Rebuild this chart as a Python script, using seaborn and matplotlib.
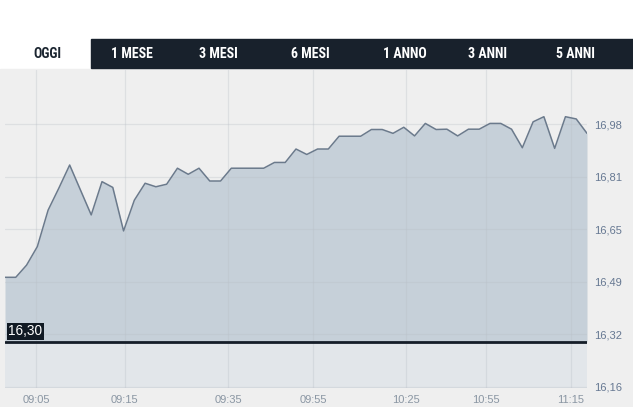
import pandas as pd
import seaborn as sns
import matplotlib.pyplot as plt
from matplotlib import font_manager
from matplotlib.patches import Rectangle

# intraday prices, one per sample
prices = [16.502, 16.502, 16.540, 16.598, 16.712, 16.781, 16.853, 16.775, 16.697, 16.801,
          16.783, 16.647, 16.743, 16.796, 16.785, 16.793, 16.843, 16.824, 16.843, 16.803,
          16.803, 16.843, 16.843, 16.843, 16.843, 16.861, 16.861, 16.903, 16.886, 16.903,
          16.903, 16.943, 16.943, 16.943, 16.964, 16.964, 16.952, 16.971, 16.944, 16.983,
          16.964, 16.965, 16.944, 16.965, 16.965, 16.983, 16.983, 16.965, 16.907, 16.988,
          17.004, 16.905, 17.004, 16.997, 16.952]
prev_close = 16.30
prev_close_label = '16,30'

x_labels = ['09:05', '09:15', '09:35', '09:55', '10:25', '10:55', '11:15']
x_label_pos = [2.9, 11.1, 20.7, 28.6, 37.2, 44.6, 52.5]
y_ticks = [16.16, 16.324, 16.488, 16.652, 16.816, 16.98]
y_labels = ['16,16', '16,32', '16,49', '16,65', '16,81', '16,98']
tabs = ['OGGI', '1 MESE', '3 MESI', '6 MESI', '1 ANNO', '3 ANNI', '5 ANNI']

y_lo, y_hi = 16.156, 17.150

df = pd.DataFrame({'idx': range(len(prices)), 'price': prices})

sns.set_theme(style='white')
plt.rcParams['font.family'] = ['Liberation Sans', 'DejaVu Sans']

# pick a narrow font for the tabs if there is one
installed = {f.name for f in font_manager.fontManager.ttflist}
tab_font = 'Liberation Sans'
for cand in ['Roboto Condensed', 'Liberation Sans Narrow', 'DejaVu Sans Condensed']:
    if cand in installed:
        tab_font = cand
        break
tab_size = 10 if tab_font != 'Liberation Sans' else 9

W, H = 633, 407
fig = plt.figure(figsize=(W / 100, H / 100), dpi=100)
fig.patch.set_facecolor('white')

# grey panel under the tab bar, dark tab strip
fig.patches.append(Rectangle((0, 0), 1, (H - 69) / H, transform=fig.transFigure,
                             color='#efefef', zorder=-5))
fig.patches.append(Rectangle((91 / W, (H - 68) / H), 1 - 91 / W, 29 / H,
                             transform=fig.transFigure, color='#18212c', zorder=-5))

tab_x = [47, 132, 218, 310, 405, 488, 576]
for t, px in zip(tabs, tab_x):
    fig.text(px / W, (H - 54) / H, t, ha='center', va='center',
             fontsize=tab_size, fontweight='bold', family=tab_font,
             color='#1b2530' if t == tabs[0] else 'white')

ax = fig.add_axes([5 / W, (H - 388) / H, 582 / W, 318 / H])
ax.set_facecolor('#efefef')

ax.fill_between(df['idx'], df['price'], prev_close, color='#c6d0d9', lw=0, zorder=1)
ax.fill_between(df['idx'], prev_close, y_lo, color='#e2e6ea', lw=0, zorder=1)
sns.lineplot(data=df, x='idx', y='price', ax=ax, color='#6b7a8c', lw=1.1, zorder=3)
ax.axhline(prev_close, color='#141d28', lw=2, zorder=4)
ax.annotate(prev_close_label, xy=(0, prev_close), xycoords=('axes fraction', 'data'),
            xytext=(2.5, 2.5), textcoords='offset points', ha='left', va='bottom',
            color='white', fontsize=9.8, zorder=5,
            bbox=dict(boxstyle='square,pad=0.14', fc='#111a24', ec='none'))

ax.set_xlim(0, len(prices) - 1)
ax.set_ylim(y_lo, y_hi)
ax.set_xticks(x_label_pos, x_labels)
ax.yaxis.tick_right()
ax.set_yticks(y_ticks, y_labels)
ax.set_axisbelow(False)
ax.grid(True, color='#b8bec6', alpha=0.32, lw=0.9)
ax.tick_params(axis='y', length=0, pad=5, labelsize=8, labelcolor='#667892')
ax.tick_params(axis='x', length=0, pad=5, labelsize=8, labelcolor='#8a96a3')
ax.set_xlabel('')
ax.set_ylabel('')
for s in ax.spines.values():
    s.set_visible(False)

fig.savefig('out.png', dpi=100, facecolor=fig.get_facecolor())
